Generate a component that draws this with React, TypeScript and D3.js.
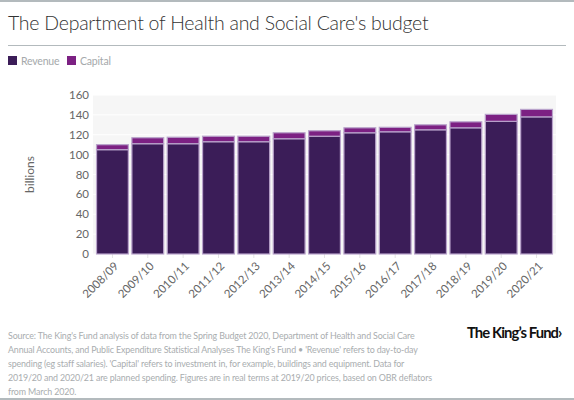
import React from "react";
import * as d3 from "d3";

const years = [
  "2008/09", "2009/10", "2010/11", "2011/12", "2012/13", "2013/14", "2014/15",
  "2015/16", "2016/17", "2017/18", "2018/19", "2019/20", "2020/21",
];
const revenue = [105, 111, 111, 113, 113, 116, 118.5, 122, 123, 125, 127, 133.5, 138];
const capital = [5, 6, 6.5, 5.5, 5.5, 6, 5.5, 5, 4.5, 5, 6, 7, 7.5];
const yTicks = [0, 20, 40, 60, 80, 100, 120, 140, 160];

const seriesNames = ["Revenue", "Capital"];
const seriesColors = ["#3b1d58", "#7c2183"];

const footerLines = [
  "Source: The King's Fund analysis of data from the Spring Budget 2020, Department of Health and Social Care",
  "Annual Accounts, and Public Expenditure Statistical Analyses The King's Fund • 'Revenue' refers to day-to-day",
  "spending (eg staff salaries). 'Capital' refers to investment in, for example, buildings and equipment. Data for",
  "2019/20 and 2020/21 are planned spending. Figures are in real terms at 2019/20 prices, based on OBR deflators",
  "from March 2020.",
];

const FONT = "Lato, 'Open Sans', sans-serif";

export default function App() {
  const W = 574;
  const H = 400;
  const plot = { left: 93, right: 556, top: 95, bottom: 254 };

  const x = d3
    .scaleBand<string>()
    .domain(years)
    .range([plot.left, plot.right])
    .paddingInner(0.1)
    .paddingOuter(0.1);
  const y = d3.scaleLinear().domain([0, 160]).range([plot.bottom, plot.top]);

  const stack = years.map((yr, i) => ({ yr, rev: revenue[i], cap: capital[i] }));

  return (
    <svg
      width={W}
      height={H}
      style={{ position: "absolute", left: 0, top: 0, background: "#fff" }}
      fontFamily={FONT}
    >
      {/* frame lines */}
      <rect x={0} y={0} width={W} height={2} fill="#b3babd" />
      <rect x={0} y={H - 2} width={W} height={2} fill="#b3babd" />

      <text x={8} y={30} fontSize={19.5} fontWeight={300} fill="#333" letterSpacing={-0.25}>
        The Department of Health and Social Care's budget
      </text>
      <line x1={8} x2={566} y1={45.5} y2={45.5} stroke="#b3babd" strokeWidth={1} />

      {/* legend */}
      {(() => {
        let lx = 8;
        return seriesNames.map((name, i) => {
          const g = (
            <g key={name} transform={`translate(${lx},0)`}>
              <rect x={0} y={56} width={9} height={9} fill={seriesColors[i]} />
              <text x={13} y={64.5} fontSize={10.5} fill="#a5a9ab" letterSpacing={-0.2}>
                {name}
              </text>
            </g>
          );
          lx += 59;
          return g;
        });
      })()}

      {/* plot background and grid */}
      <rect
        x={plot.left}
        y={plot.top}
        width={plot.right - plot.left}
        height={plot.bottom - plot.top}
        fill="#f6f6f6"
      />
      {yTicks.map((t) => (
        <line
          key={t}
          x1={plot.left}
          x2={plot.right}
          y1={y(t)}
          y2={y(t)}
          stroke="#fff"
          strokeWidth={1}
        />
      ))}

      {/* y axis */}
      {yTicks.map((t) => (
        <text
          key={t}
          x={89}
          y={y(t)}
          dy="0.35em"
          textAnchor="end"
          fontSize={11.5}
          fill="#666"
        >
          {t}
        </text>
      ))}
      <text
        transform={`translate(34,${(plot.top + plot.bottom) / 2}) rotate(-90)`}
        textAnchor="middle"
        fontSize={12}
        fill="#666"
      >
        billions
      </text>

      {/* x ticks */}
      {years.map((yr) => {
        const cx = (x(yr) as number) + x.bandwidth() / 2;
        return (
          <line
            key={yr}
            x1={cx}
            x2={cx}
            y1={plot.bottom}
            y2={plot.bottom + 4}
            stroke="#e3e3e3"
          />
        );
      })}

      {/* stacked bars */}
      {stack.map((d) => {
        const bx = x(d.yr) as number;
        const bw = x.bandwidth();
        return (
          <g key={d.yr}>
            <rect
              x={bx}
              y={y(d.rev)}
              width={bw}
              height={y(0) - y(d.rev)}
              fill={seriesColors[0]}
              stroke="#b9a3cb"
              strokeWidth={1.2}
            />
            <rect
              x={bx}
              y={y(d.rev + d.cap)}
              width={bw}
              height={y(d.rev) - y(d.rev + d.cap)}
              fill={seriesColors[1]}
              stroke="#b9a3cb"
              strokeWidth={1.2}
            />
          </g>
        );
      })}

      {/* x labels */}
      {years.map((yr) => {
        const cx = (x(yr) as number) + x.bandwidth() / 2;
        return (
          <text
            key={yr}
            transform={`translate(${cx + 4},${plot.bottom + 10}) rotate(-45)`}
            textAnchor="end"
            dy="0.35em"
            fontSize={11.5}
            fill="#666"
          >
            {yr}
          </text>
        );
      })}

      {/* footer */}
      {footerLines.map((l, i) => (
        <text
          key={i}
          x={8}
          y={339 + i * 14}
          fontSize={8.9}
          fill="#a9adaf"
          letterSpacing={-0.15}
        >
          {l}
        </text>
      ))}
      <text
        x={467}
        y={338}
        fontSize={14.8}
        fontWeight={700}
        fill="#111"
        letterSpacing={-0.9}
      >
        The King’s Fund›
      </text>
    </svg>
  );
}
